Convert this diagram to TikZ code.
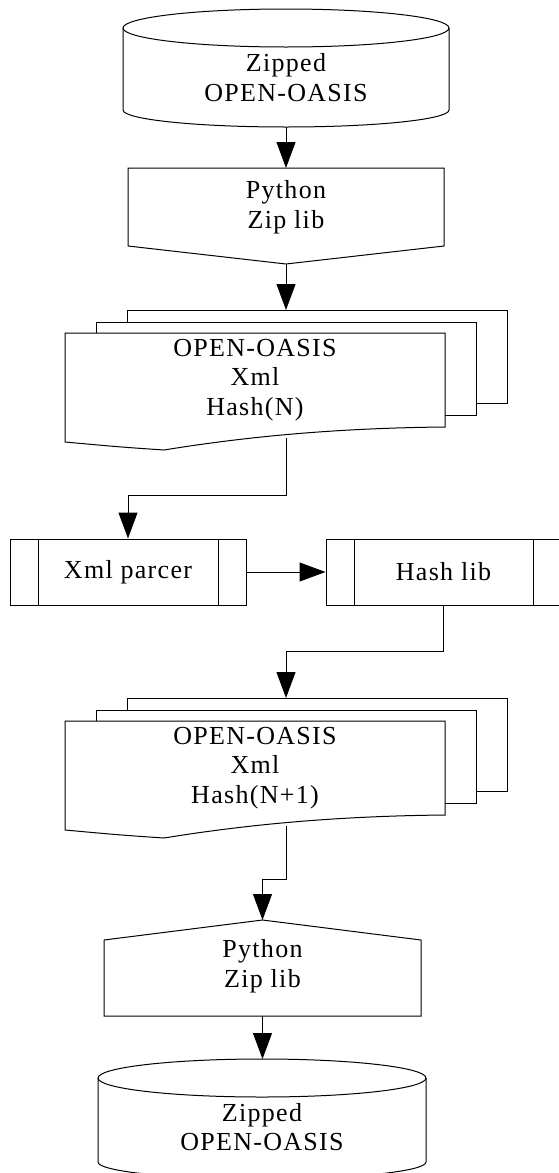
\documentclass[tikz,border=0pt]{standalone}
\usepackage{fontspec}
\setmainfont{Liberation Serif}[LetterSpace=5]
\usetikzlibrary{arrows.meta,calc}

\tikzset{
  outline/.style={draw,line width=1pt},
  lbl/.style={align=center,inner sep=0pt,font=\fontsize{26pt}{29.5pt}\selectfont},
  flow/.style={line width=1pt,-{Triangle[length=26pt,width=19pt]}},
  subproc/.style={outline,minimum height=66pt,inner sep=0pt,
    font=\fontsize{26pt}{29.5pt}\selectfont,
    path picture={
      \draw[line width=1pt] ($(path picture bounding box.north west)+(28pt,0)$) -- ($(path picture bounding box.south west)+(28pt,0)$);
      \draw[line width=1pt] ($(path picture bounding box.north east)+(-28pt,0)$) -- ($(path picture bounding box.south east)+(-28pt,0)$);
    }},
}

\begin{document}
\begin{tikzpicture}[x=1pt,y=1pt]
  \useasboundingbox (0,0) rectangle (558,-1173);

  % zipped input
  \draw[outline] (123,-28) -- (123,-110) arc[start angle=180,end angle=360,x radius=163,y radius=17] -- (449,-28);
  \draw[outline] (286,-28) ellipse[x radius=163,y radius=19];
  \node[lbl] (zipin) at (286,-77.5) {Zipped\\OPEN-OASIS};
  \coordinate (zipin-out) at (286,-127);

  % unzip
  \draw[outline] (128,-168) -- (444,-168) -- (444,-246) -- (286,-264) -- (128,-246) -- cycle;
  \node[lbl] (unzip) at (286,-207) {Python\\Zip lib};
  \coordinate (unzip-in) at (286,-168);
  \coordinate (unzip-out) at (286,-264);

  % document stacks
  \foreach \dy in {0,-388} {
    \begin{scope}[yshift=\dy]
      \draw[outline] (127,-322) -- (127,-310) -- (507,-310) -- (507,-403) -- (476,-403);
      \draw[outline] (96,-333) -- (96,-322) -- (476,-322) -- (476,-415) -- (445,-415);
      \draw[outline] (65,-333) -- (445,-333) -- (445,-427)
        .. controls (340,-428) and (250,-436) .. (164,-450)
        .. controls (120,-447) .. (65,-442) -- cycle;
    \end{scope}
  }
  \node[lbl] (xmlin) at (255,-380) {OPEN-OASIS\\Xml\\Hash(N)};
  \coordinate (xmlin-in) at (286,-310);
  \coordinate (xmlin-out) at (286,-438);

  \node[lbl] (xmlout) at (255,-768) {OPEN-OASIS\\Xml\\Hash(N+1)};
  \coordinate (xmlout-in) at (286,-698);
  \coordinate (xmlout-out) at (286,-826);

  % processing
  \node[subproc,minimum width=236pt] (parser) at (128,-572) {Xml parcer};
  \node[subproc,minimum width=235pt] (hashlib) at (443.5,-572) {Hash lib};

  % zip
  \draw[outline] (104,-1016) -- (104,-940) -- (262.5,-920) -- (421,-940) -- (421,-1016) -- cycle;
  \node[lbl] (rezip) at (262.5,-966) {Python\\Zip lib};
  \coordinate (rezip-in) at (262.5,-920);
  \coordinate (rezip-out) at (262.5,-1016);

  % zipped output
  \draw[outline] (98,-1078) -- (98,-1162) arc[start angle=180,end angle=360,x radius=164,y radius=17] -- (426,-1078);
  \draw[outline] (262,-1078) ellipse[x radius=164,y radius=19];
  \node[lbl] (zipout) at (262,-1127) {Zipped\\OPEN-OASIS};
  \coordinate (zipout-in) at (262.5,-1059);

  % connectors
  \draw[flow] (zipin-out) -- (unzip-in);
  \draw[flow] (unzip-out) -- (xmlin-in);
  \draw[flow] (xmlin-out) -- (286,-495) -| (parser);
  \draw[flow] (parser) -- (hashlib);
  \draw[flow] (hashlib.south) -- ++(0,-46) -| (xmlout-in);
  \draw[flow] (xmlout-out) -- (286,-879) -| (rezip-in);
  \draw[flow] (rezip-out) -- (zipout-in);
\end{tikzpicture}
\end{document}
